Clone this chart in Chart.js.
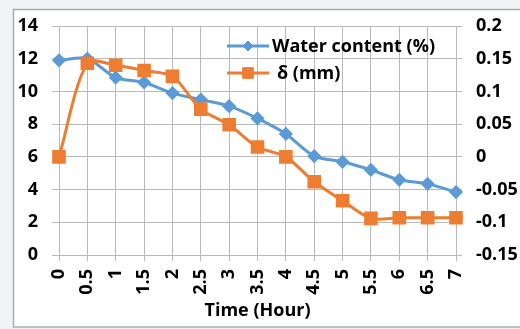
<!DOCTYPE html>
<html>
<head>
<meta charset="utf-8">
<script src="https://cdn.jsdelivr.net/npm/chart.js@4.4.1/dist/chart.umd.min.js"></script>
<style>
  html, body { margin: 0; padding: 0; background: #f2f3f5; }
  #wrap { position: absolute; left: 0; top: 0; width: 520px; height: 329px; }
</style>
</head>
<body>
<div id="wrap"><canvas id="c" width="520" height="329"></canvas></div>
<script>
// Elapsed time (hours)
const timeLabels = ['0', '0.5', '1', '1.5', '2', '2.5', '3', '3.5', '4', '4.5', '5', '5.5', '6', '6.5', '7'];
// Water content (%) – left axis
const waterContent = [11.9, 12.0, 10.85, 10.55, 9.9, 9.5, 9.1, 8.35, 7.4, 6.05, 5.7, 5.2, 4.6, 4.35, 3.85];
// Displacement δ (mm) – right axis
const delta = [0.0, 0.143, 0.14, 0.132, 0.123, 0.073, 0.049, 0.015, 0.0, -0.038, -0.067, -0.094, -0.093, -0.093, -0.093];

const leftTickValues = [0, 2, 4, 6, 8, 10, 12, 14];
const rightTickValues = [-0.15, -0.1, -0.05, 0, 0.05, 0.1, 0.15, 0.2];
const rightTickLabels = ['-0.15', '-0.1', '-0.05', '0', '0.05', '0.1', '0.15', '0.2'];

const seriesNames = ['Water content (%)', 'δ (mm)'];
const BLUE = '#5b9bd5';
const ORANGE = '#ed7d31';
const GRID = '#b9b9b9';
const FONT = "'Open Sans', 'Liberation Sans', sans-serif";
const FONT_SIZE = 18;

// Outer panel: grey surround with a white bordered frame
const framePlugin = {
  id: 'frame',
  beforeDraw(chart) {
    const ctx = chart.ctx;
    ctx.save();
    ctx.fillStyle = '#f2f3f5';
    ctx.fillRect(0, 0, chart.width, chart.height);
    ctx.fillStyle = '#ffffff';
    ctx.fillRect(13, 9, chart.width, 318);
    ctx.strokeStyle = '#acacac';
    ctx.lineWidth = 1.5;
    ctx.strokeRect(13.5, 9.5, chart.width + 10, 317.5);
    ctx.restore();
  }
};

// Legend drawn inside the plot area, top right
const innerLegend = {
  id: 'innerLegend',
  afterDatasetsDraw(chart) {
    const ctx = chart.ctx;
    const area = chart.chartArea;
    const x0 = area.left + 168;
    const rows = [
      { ds: chart.data.datasets[0], y: area.top + 20, textDx: 0 },
      { ds: chart.data.datasets[1], y: area.top + 47, textDx: 5 }
    ];
    rows.forEach(r => {
      ctx.save();
      ctx.strokeStyle = r.ds.borderColor;
      ctx.lineWidth = 3;
      ctx.beginPath();
      ctx.moveTo(x0, r.y);
      ctx.lineTo(x0 + 42, r.y);
      ctx.stroke();
      ctx.fillStyle = r.ds.pointBackgroundColor;
      ctx.strokeStyle = r.ds.pointBorderColor;
      ctx.lineWidth = 1;
      Chart.helpers.drawPoint(ctx, {
        pointStyle: r.ds.pointStyle,
        radius: r.ds.pointRadius,
        borderWidth: 1
      }, x0 + 21, r.y);
      ctx.fillStyle = '#000000';
      ctx.font = "bold " + FONT_SIZE + "px " + FONT;
      ctx.textBaseline = 'middle';
      ctx.textAlign = 'left';
      ctx.fillText(r.ds.label, x0 + 45 + r.textDx, r.y + 1);
      ctx.restore();
    });
  }
};

const tickFont = { family: FONT, size: FONT_SIZE, weight: 'bold' };

const ctx = document.getElementById('c').getContext('2d');
new Chart(ctx, {
  type: 'line',
  data: {
    labels: timeLabels,
    datasets: [
      {
        label: seriesNames[0],
        data: waterContent,
        yAxisID: 'y',
        borderColor: BLUE,
        backgroundColor: BLUE,
        pointBackgroundColor: BLUE,
        pointBorderColor: BLUE,
        pointStyle: 'rectRot',
        pointRadius: 5,
        borderWidth: 3,
        tension: 0.3,
        order: 1
      },
      {
        label: seriesNames[1],
        data: delta,
        yAxisID: 'y1',
        borderColor: ORANGE,
        backgroundColor: ORANGE,
        pointBackgroundColor: ORANGE,
        pointBorderColor: ORANGE,
        pointStyle: 'rect',
        pointRadius: 7.5,
        borderWidth: 3,
        tension: 0.3,
        order: 0
      }
    ]
  },
  options: {
    responsive: false,
    animation: false,
    devicePixelRatio: 1,
    layout: { padding: { left: 0, right: 0, top: 26, bottom: 0 } },
    plugins: {
      legend: { display: false },
      tooltip: { enabled: false }
    },
    elements: { point: { borderWidth: 1 } },
    scales: {
      x: {
        type: 'category',
        offset: false,
        grid: { color: GRID, lineWidth: 1, tickLength: 6, offset: false },
        border: { color: GRID, width: 1 },
        ticks: {
          color: '#000000',
          font: tickFont,
          maxRotation: 90,
          minRotation: 90,
          padding: 8,
          autoSkip: false
        },
        title: {
          display: true,
          text: 'Time (Hour)',
          color: '#000000',
          font: tickFont,
          padding: { top: 0, bottom: 7 }
        },
        afterFit(s) { s.height = 74; }
      },
      y: {
        position: 'left',
        min: 0,
        max: 14,
        grid: { color: GRID, lineWidth: 1, tickLength: 7 },
        border: { color: GRID, width: 1 },
        afterBuildTicks(s) { s.ticks = leftTickValues.map(v => ({ value: v })); },
        ticks: {
          color: '#000000',
          font: tickFont,
          padding: 14,
          callback: v => String(v)
        },
        afterFit(s) { s.width = 59; }
      },
      y1: {
        position: 'right',
        min: -0.15,
        max: 0.2,
        grid: { drawOnChartArea: false, color: GRID, lineWidth: 1, tickLength: 6 },
        border: { color: GRID, width: 1 },
        afterBuildTicks(s) { s.ticks = rightTickValues.map(v => ({ value: v })); },
        ticks: {
          color: '#000000',
          font: tickFont,
          padding: 14,
          callback: (v, i) => rightTickLabels[i]
        },
        afterFit(s) { s.width = 64; }
      }
    }
  },
  plugins: [framePlugin, innerLegend]
});
</script>
</body>
</html>
